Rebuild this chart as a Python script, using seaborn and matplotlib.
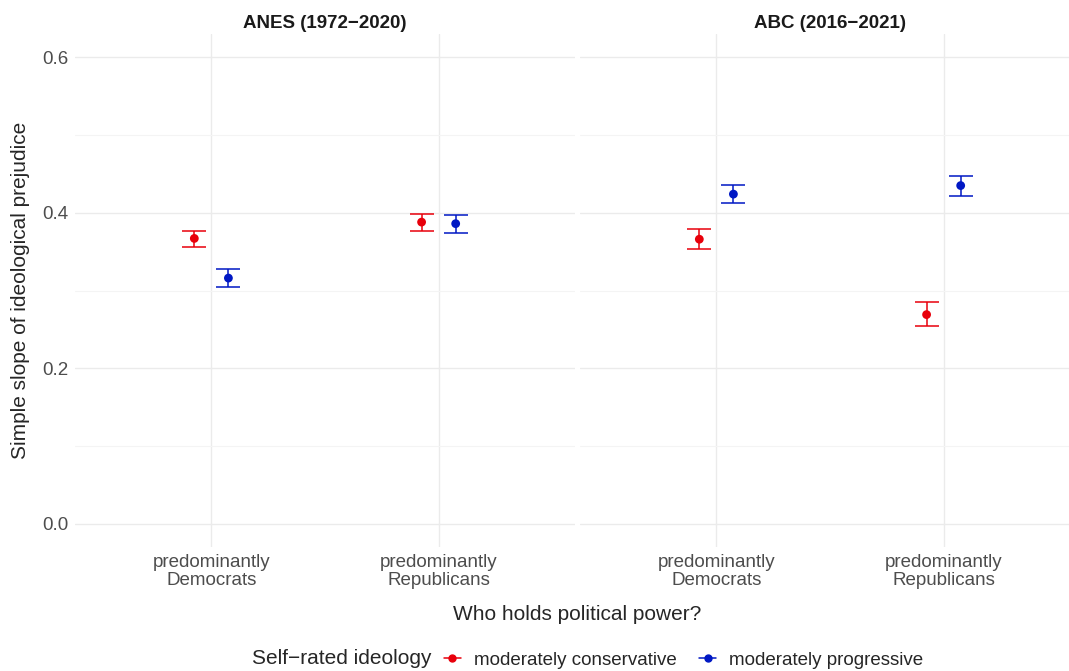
import matplotlib
matplotlib.use("Agg")
import matplotlib.pyplot as plt
from matplotlib.lines import Line2D
import numpy as np
import pandas as pd
import seaborn as sns

# data
panels = ["ANES (1972\u22122020)", "ABC (2016\u22122021)"]
power = ["predominantly\nDemocrats", "predominantly\nRepublicans"]
ideology = ["moderately conservative", "moderately progressive"]

# order: panel, power, ideology
panel_col = ["ANES (1972\u22122020)"] * 4 + ["ABC (2016\u22122021)"] * 4
power_col = [power[0], power[0], power[1], power[1]] * 2
ideo_col = ideology * 4
slope = [0.367, 0.316, 0.388, 0.386, 0.366, 0.424, 0.269, 0.435]
lower = [0.356, 0.304, 0.377, 0.374, 0.354, 0.412, 0.254, 0.422]
upper = [0.377, 0.328, 0.399, 0.397, 0.379, 0.436, 0.285, 0.447]

df = pd.DataFrame({
    "panel": panel_col,
    "power": power_col,
    "ideology": ideo_col,
    "slope": slope,
    "lower": lower,
    "upper": upper,
})

colors = {"moderately conservative": "#E8000B", "moderately progressive": "#0018C4"}
dodge = {"moderately conservative": -0.075, "moderately progressive": 0.075}
df["x"] = df["power"].map({p: i for i, p in enumerate(power)}) + df["ideology"].map(dodge)

sns.set_theme(style="white")
plt.rcParams["font.family"] = ["Liberation Sans", "DejaVu Sans"]

fig = plt.figure(figsize=(10.69, 6.71), dpi=100)
W, H = 1069, 671
grid_major = "#EBEBEB"
grid_minor = "#F4F4F4"

for i, panel in enumerate(panels):
    left = 75 if i == 0 else 580
    ax = fig.add_axes([left / W, (H - 547) / H, 500 / W, 513 / H])
    sub = df[df["panel"] == panel]

    for _, row in sub.iterrows():
        ax.errorbar(row["x"], row["slope"],
                    yerr=[[row["slope"] - row["lower"]], [row["upper"] - row["slope"]]],
                    fmt="none", ecolor=colors[row["ideology"]], elinewidth=1.1,
                    capsize=8.3, capthick=1.1, zorder=3)
    sns.scatterplot(data=sub, x="x", y="slope", hue="ideology", palette=colors,
                    s=40, edgecolor="none", legend=False, ax=ax, zorder=4)

    ax.set_xlim(-0.6, 1.6)
    ax.set_ylim(-0.03, 0.63)
    ax.set_xticks(range(len(power)))
    ax.set_xticklabels(power, fontsize=13.5, color="#4D4D4D", linespacing=1.05)
    ax.set_yticks([0.0, 0.2, 0.4, 0.6])
    ax.set_yticks([0.1, 0.3, 0.5], minor=True)
    if i == 0:
        ax.set_yticklabels(["0.0", "0.2", "0.4", "0.6"], fontsize=13.5, color="#4D4D4D")
    else:
        ax.set_yticklabels([])
    ax.tick_params(axis="both", which="both", length=0, pad=5)
    ax.grid(True, which="major", color=grid_major, linewidth=1.0)
    ax.grid(True, which="minor", axis="y", color=grid_minor, linewidth=0.8)
    ax.set_axisbelow(True)
    for s in ax.spines.values():
        s.set_visible(False)
    ax.set_xlabel("")
    ax.set_ylabel("")
    ax.set_title(panel, fontsize=13.5, fontweight="bold", color="#1A1A1A", pad=4)

fig.text(21 / W, 1 - 290 / H, "Simple slope of ideological prejudice", rotation=90,
         ha="center", va="center", fontsize=15)
fig.text(577 / W, 1 - 614 / H, "Who holds political power?", ha="center", va="center",
         fontsize=15)

fig.text(252 / W, 1 - 659 / H, "Self\u2212rated ideology", ha="left", va="center", fontsize=15)
handles = [Line2D([0], [0], color=colors[k], marker="o", markersize=5, linewidth=1.1)
           for k in ideology]
fig.legend(handles, ideology, loc="center left", bbox_to_anchor=(444 / W, 1 - 660 / H),
           ncol=2, frameon=False, fontsize=13.5, handlelength=0.9, handletextpad=0.7,
           columnspacing=1.2, borderpad=0, borderaxespad=0)

fig.savefig("out.png", dpi=100, facecolor="white")
